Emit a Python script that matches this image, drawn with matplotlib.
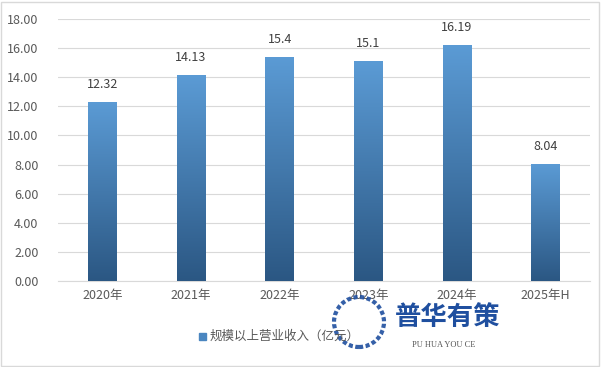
import matplotlib
matplotlib.use("Agg")
import matplotlib.pyplot as plt
import numpy as np
from matplotlib.patches import Rectangle, Ellipse
from matplotlib.colors import LinearSegmentedColormap

plt.rcParams['font.family'] = ['Noto Sans CJK SC', 'DejaVu Sans']

categories = ['2020年', '2021年', '2022年', '2023年', '2024年', '2025年H']
values = [12.32, 14.13, 15.4, 15.1, 16.19, 8.04]
value_labels = ['12.32', '14.13', '15.4', '15.1', '16.19', '8.04']
legend_label = '规模以上营业收入（亿元）'
yticks = [0, 2, 4, 6, 8, 10, 12, 14, 16, 18]

fig = plt.figure(figsize=(6.01, 3.67), dpi=100)
ax = fig.add_axes([58/601, 1-281/367, (590-58)/601, (281-19)/367])

x = np.arange(len(categories))
width = 0.32
bars = ax.bar(x, values, width=width, color='none', zorder=3)
cmap = LinearSegmentedColormap.from_list('g', ['#2b5783', '#5b9bd5'])
grad = np.linspace(0, 1, 256).reshape(-1, 1)
for b in bars:
    x0, y0 = b.get_x(), b.get_y()
    w, h = b.get_width(), b.get_height()
    im = ax.imshow(grad, cmap=cmap, aspect='auto', origin='lower',
                   extent=[x0, x0 + w, y0, y0 + h], zorder=3)
    im.set_clip_path(b)

ax.set_xlim(-0.5, len(categories) - 0.5)
ax.set_ylim(0, 18)
ax.set_yticks(yticks)
ax.set_yticklabels([f'{v:.2f}' for v in yticks])
ax.set_xticks(x)
ax.set_xticklabels(categories)
ax.tick_params(axis='both', length=0, labelsize=9, colors='#595959')
ax.tick_params(axis='y', pad=14)
ax.tick_params(axis='x', pad=6)
ax.grid(axis='y', color='#d9d9d9', linewidth=0.8, zorder=0)
for s in ['top', 'right', 'left']:
    ax.spines[s].set_visible(False)
ax.spines['bottom'].set_color('#d9d9d9')

for xi, v, lab in zip(x, values, value_labels):
    ax.annotate(lab, (xi, v), xytext=(0, 8), textcoords='offset points',
                ha='center', va='bottom', fontsize=9, color='#404040')

# legend
fig.patches.append(Rectangle((199/601, 1-340/367), 7/601, 7/367,
                             transform=fig.transFigure, color='#4a86c0'))
fig.text(210/601, 1-336/367, legend_label, fontsize=9, color='#595959',
         va='center', ha='left')

# watermark
fig.patches.append(Ellipse((359/601, 1-322/367), 50/601, 50/367, transform=fig.transFigure,
                           fill=False, edgecolor='#1f4f9f', linewidth=3, linestyle=(0, (1, 0.6)),
                           alpha=0.9))
fig.text(395/601, 1-317/367, '普华有策', fontsize=19, fontweight='bold',
         color='#1f4f9f', va='center', ha='left')
fig.text(412/601, 1-345/367, 'PU HUA YOU CE', fontsize=6, color='#555555',
         va='center', ha='left', family='Liberation Serif')

# border
fig.patches.append(Rectangle((1/601, 1/367), 598/601, 364/367, transform=fig.transFigure,
                             fill=False, edgecolor='#d9d9d9', linewidth=1))

fig.savefig('out.png', dpi=100)
